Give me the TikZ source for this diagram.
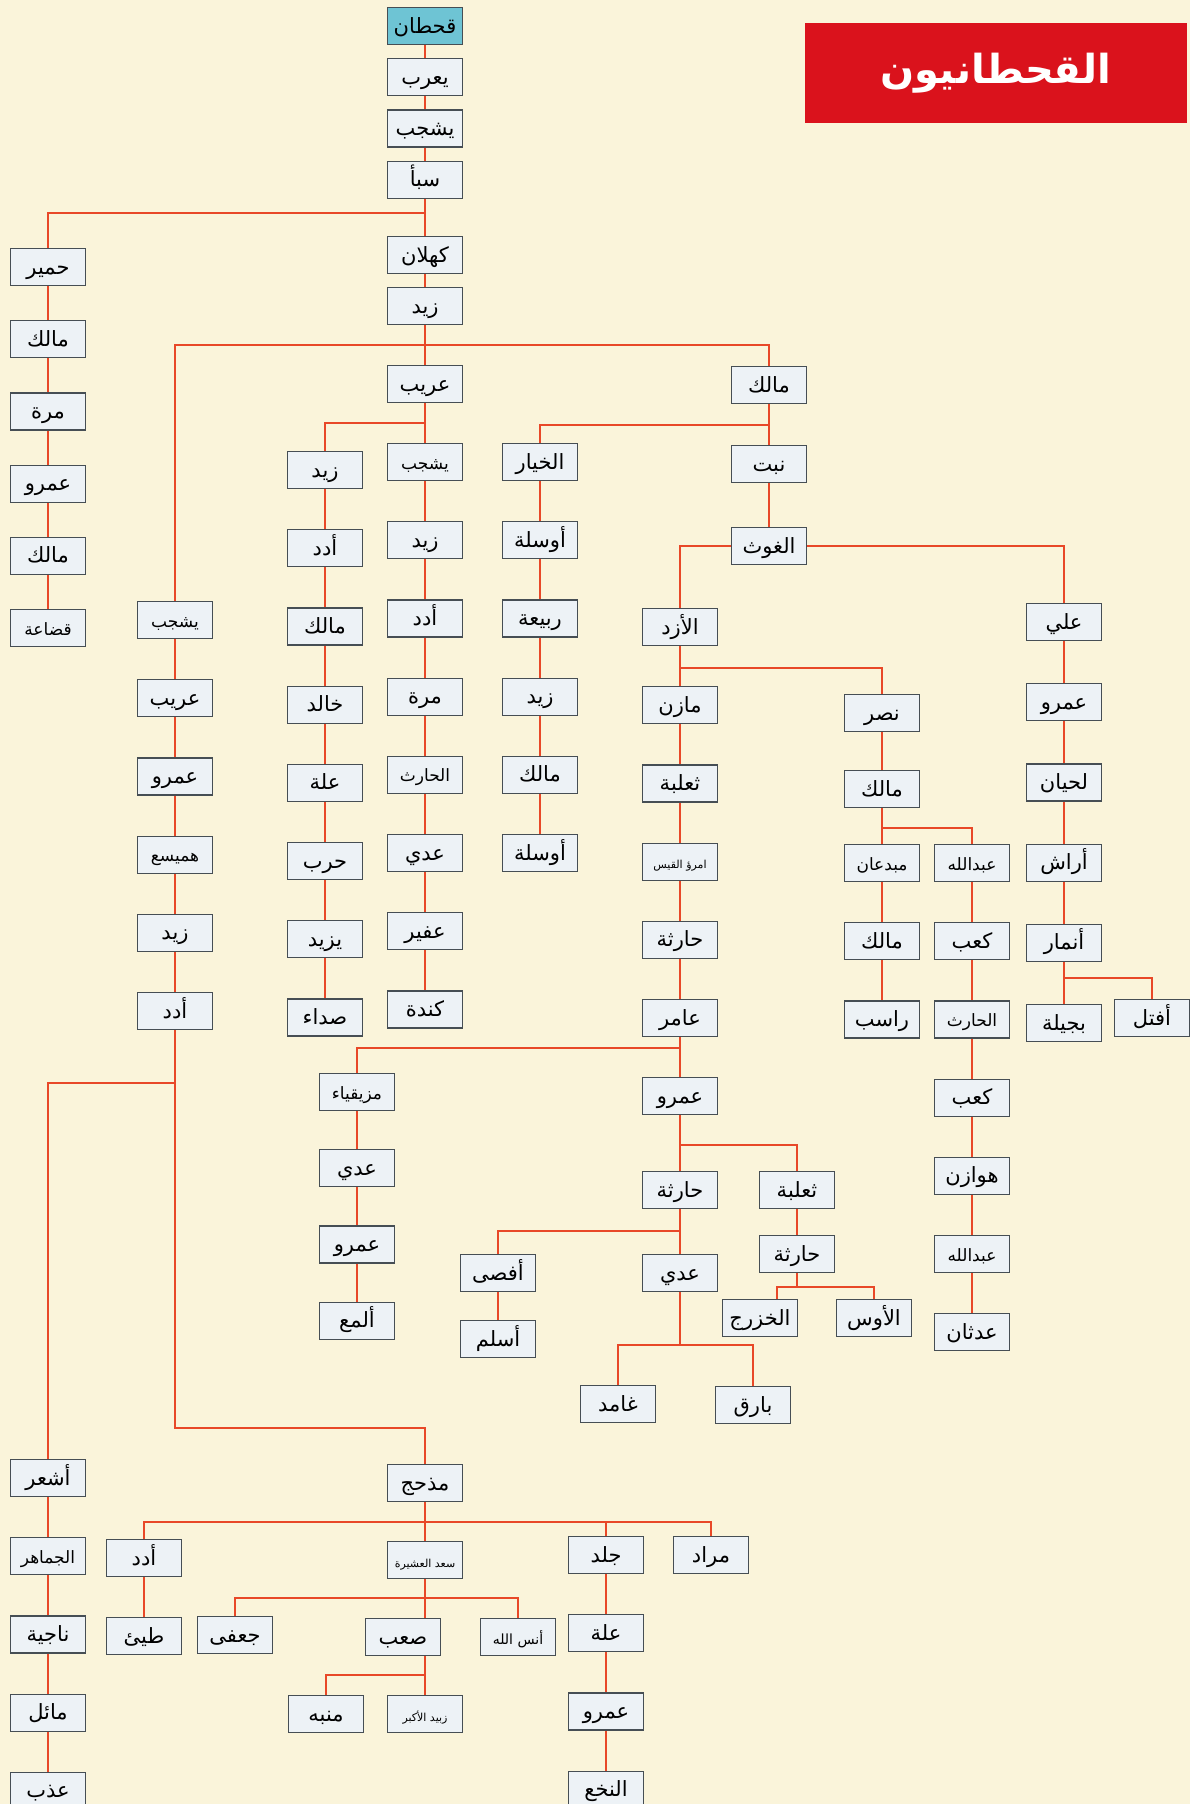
\documentclass[tikz,border=0pt]{standalone}
\usepackage{fontspec}
\usepackage{tikz}
\usetikzlibrary{positioning}
\TeXXeTstate=1
\newfontfamily\arabicfont[Script=Arabic]{DejaVu Sans}
\definecolor{bgcream}{RGB}{250,244,218}
\definecolor{boxfill}{RGB}{237,242,246}
\definecolor{boxline}{RGB}{70,78,84}
\definecolor{linkred}{RGB}{232,72,40}
\definecolor{rootcyan}{RGB}{110,196,212}
\definecolor{titlered}{RGB}{218,18,28}
\tikzset{
  pbox/.style={rectangle,draw=boxline,fill=boxfill,line width=0.6pt,
               minimum width=37.5pt,minimum height=18.5pt,inner sep=1pt,
               text height=8.5pt,text depth=1.5pt,
               font=\arabicfont\fontsize{10.5}{12}\selectfont,
               execute at begin node=\beginR,execute at end node=\endR},
  mbox/.style={pbox,font=\arabicfont\fontsize{8.5}{10}\selectfont},
  sbox/.style={pbox,font=\arabicfont\fontsize{5.5}{7}\selectfont},
  rbox/.style={pbox,fill=rootcyan},
  ln/.style={draw=linkred,line width=1pt},
}
\begin{document}
\begin{tikzpicture}[x=0.5pt,y=-0.5pt,node distance=20pt]
  \fill[bgcream] (0,0) rectangle (1190,1804);
  \useasboundingbox (0,0) rectangle (1190,1804);
  % title
  \node[fill=titlered,minimum width=191pt,minimum height=50pt,text=white,
        font=\arabicfont\bfseries\fontsize{20}{24}\selectfont] (title) at (996,73) {\beginR القحطانيون\endR};
  % trunk
  \node[rbox] (qah) at (425,26) {قحطان};
  \node[pbox,below=6.5pt of qah] (yar) {يعرب};
  \node[pbox,below=6.5pt of yar] (ysh) {يشجب};
  \node[pbox,below=6.5pt of ysh] (saba) {سبأ};
  \node[pbox] (kah) at (425,255) {كهلان};
  \node[pbox,below=6.5pt of kah] (zay) {زيد};
  \node[pbox] (urb) at (425,384) {عريب};
  \node[pbox] (mlk) at (769,385) {مالك};
  % himyar
  \node[pbox] (him) at (48,267) {حمير};
  \node[pbox,below=17pt of him] (hb) {مالك};
  \node[pbox,below=17pt of hb] (hc) {مرة};
  \node[pbox,below=17pt of hc] (hd) {عمرو};
  \node[pbox,below=17pt of hd] (he) {مالك};
  \node[mbox,below=17pt of he] (hf) {قضاعة};
  % yashjub, left
  \node[mbox] (ysb) at (175,620) {يشجب};
  \node[pbox,below=of ysb] (ysc) {عريب};
  \node[pbox,below=of ysc] (ysd) {عمرو};
  \node[mbox,below=of ysd] (yse) {هميسع};
  \node[pbox,below=of yse] (ysf) {زيد};
  \node[pbox,below=of ysf] (ysg) {أدد};
  % zayd
  \node[pbox] (zyb) at (325,470) {زيد};
  \node[pbox,below=of zyb] (zyc) {أدد};
  \node[pbox,below=of zyc] (zyd) {مالك};
  \node[pbox,below=of zyd] (zye) {خالد};
  \node[pbox,below=of zye] (zyf) {علة};
  \node[pbox,below=of zyf] (zyg) {حرب};
  \node[pbox,below=of zyg] (zyh) {يزيد};
  \node[pbox,below=of zyh] (zyi) {صداء};
  % kinda
  \node[mbox] (knb) at (425,462) {يشجب};
  \node[pbox,below=of knb] (knc) {زيد};
  \node[pbox,below=of knc] (knd) {أدد};
  \node[pbox,below=of knd] (kne) {مرة};
  \node[mbox,below=of kne] (knf) {الحارث};
  \node[pbox,below=of knf] (kng) {عدي};
  \node[pbox,below=of kng] (knh) {عفير};
  \node[pbox,below=of knh] (kni) {كندة};
  % khiyar
  \node[pbox] (khb) at (540,462) {الخيار};
  \node[pbox,below=of khb] (khc) {أوسلة};
  \node[pbox,below=of khc] (khd) {ربيعة};
  \node[pbox,below=of khd] (khe) {زيد};
  \node[pbox,below=of khe] (khf) {مالك};
  \node[pbox,below=of khf] (khg) {أوسلة};
  % nabt
  \node[pbox] (nabt) at (769,464) {نبت};
  \node[pbox] (ghw) at (769,546) {الغوث};
  % azd
  \node[pbox] (azd) at (680,627) {الأزد};
  \node[pbox,below=of azd] (azc) {مازن};
  \node[pbox,below=of azc] (azd2) {ثعلبة};
  \node[sbox,below=of azd2] (aze) {امرؤ القيس};
  \node[pbox,below=of aze] (azf) {حارثة};
  \node[pbox,below=of azf] (azg) {عامر};
  \node[pbox,below=of azg] (azh) {عمرو};
  \node[pbox] (har) at (680,1190) {حارثة};
  \node[pbox] (adi) at (680,1273) {عدي};
  \node[pbox] (afs) at (498,1273) {أفصى};
  \node[pbox,below=14pt of afs] (asl) {أسلم};
  \node[pbox] (gham) at (618,1404) {غامد};
  \node[pbox] (bar) at (753,1405) {بارق};
  \node[pbox] (tha) at (797,1190) {ثعلبة};
  \node[pbox,below=13pt of tha] (har2) {حارثة};
  \node[pbox] (khz) at (760,1318) {الخزرج};
  \node[pbox] (aws) at (874,1318) {الأوس};
  % muzayqiya
  \node[mbox] (muz) at (357,1092) {مزيقياء};
  \node[pbox,below=19pt of muz] (muc) {عدي};
  \node[pbox,below=19pt of muc] (mud) {عمرو};
  \node[pbox,below=19pt of mud] (mue) {ألمع};
  % nasr
  \node[pbox] (nasr) at (882,713) {نصر};
  \node[pbox,below=19pt of nasr] (nsc) {مالك};
  \node[mbox] (mub) at (882,863) {مبدعان};
  \node[pbox,below=of mub] (mbc) {مالك};
  \node[pbox,below=of mbc] (mbd) {راسب};
  \node[mbox] (abd) at (972,863) {عبدالله};
  \node[pbox,below=of abd] (abc) {كعب};
  \node[mbox,below=of abc] (abdd) {الحارث};
  \node[pbox,below=of abdd] (abe) {كعب};
  \node[pbox,below=of abe] (abf) {هوازن};
  \node[mbox,below=of abf] (abg) {عبدالله};
  \node[pbox,below=of abg] (abh) {عدثان};
  % ali
  \node[pbox] (ali) at (1064,622) {علي};
  \node[pbox,below=21pt of ali] (alc) {عمرو};
  \node[pbox,below=21pt of alc] (ald) {لحيان};
  \node[pbox,below=21pt of ald] (ale) {أراش};
  \node[pbox,below=21pt of ale] (alf) {أنمار};
  \node[pbox,below=21pt of alf] (alg) {بجيلة};
  \node[pbox] (aft) at (1152,1018) {أفتل};
  % ashar
  \node[pbox] (ash) at (48,1478) {أشعر};
  \node[mbox,below=of ash] (asc) {الجماهر};
  \node[pbox,below=of asc] (asd) {ناجية};
  \node[pbox,below=of asd] (ase) {مائل};
  \node[pbox,below=of ase] (asf) {عذب};
  % madhhij
  \node[pbox] (madh) at (425,1483) {مذحج};
  \node[pbox] (udd) at (144,1558) {أدد};
  \node[pbox,below=of udd] (tay) {طيئ};
  \node[sbox] (sad) at (425,1560) {سعد العشيرة};
  \node[pbox] (jald) at (606,1555) {جلد};
  \node[pbox,below=of jald] (ila) {علة};
  \node[pbox,below=of ila] (amr) {عمرو};
  \node[pbox,below=of amr] (nakh) {النخع};
  \node[pbox] (mur) at (711,1555) {مراد};
  \node[pbox] (juf) at (235,1635) {جعفى};
  \node[pbox] (sab) at (403,1637) {صعب};
  \node[pbox,font=\arabicfont\fontsize{7}{8}\selectfont] (anas) at (518,1637) {أنس الله};
  \node[pbox] (mun) at (326,1714) {منبه};
  \node[sbox] (zub) at (425,1714) {زبيد الأكبر};
  % connectors
  \draw[ln] (qah) -- (yar) -- (ysh) -- (saba) -- (kah) -- (zay) -- (urb) -- (knb);
  \coordinate (jA) at (425,213);
  \coordinate (jB) at (425,345);
  \coordinate (jC) at (425,423);
  \coordinate (jD) at (769,425);
  \draw[ln] (jA) -| (him);
  \draw[ln] (jB) -| (ysb);
  \draw[ln] (jB) -| (mlk);
  \draw[ln] (jC) -| (zyb);
  \draw[ln] (mlk) -- (nabt) -- (ghw);
  \draw[ln] (jD) -| (khb);
  \draw[ln] (ghw) -| (azd);
  \draw[ln] (ghw) -| (ali);
  \draw[ln] (him) -- (hb) -- (hc) -- (hd) -- (he) -- (hf);
  \draw[ln] (ysb) -- (ysc) -- (ysd) -- (yse) -- (ysf) -- (ysg);
  \draw[ln] (zyb) -- (zyc) -- (zyd) -- (zye) -- (zyf) -- (zyg) -- (zyh) -- (zyi);
  \draw[ln] (knb) -- (knc) -- (knd) -- (kne) -- (knf) -- (kng) -- (knh) -- (kni);
  \draw[ln] (khb) -- (khc) -- (khd) -- (khe) -- (khf) -- (khg);
  \draw[ln] (azd) -- (azc) -- (azd2) -- (aze) -- (azf) -- (azg) -- (azh) -- (har) -- (adi);
  \coordinate (jE) at (680,668);
  \coordinate (jF) at (680,1048);
  \coordinate (jG) at (680,1145);
  \coordinate (jH) at (680,1231);
  \coordinate (jI) at (680,1345);
  \draw[ln] (jE) -| (nasr);
  \draw[ln] (jF) -| (muz);
  \draw[ln] (jG) -| (tha);
  \draw[ln] (jH) -| (afs);
  \draw[ln] (adi) -- (jI);
  \draw[ln] (jI) -| (gham);
  \draw[ln] (jI) -| (bar);
  \draw[ln] (afs) -- (asl);
  \draw[ln] (muz) -- (muc) -- (mud) -- (mue);
  \coordinate (jJ) at (797,1287);
  \draw[ln] (tha) -- (har2) -- (jJ);
  \draw[ln] (jJ) -| (aws);
  \draw[ln] (jJ) -| ([xshift=8.5pt]khz.north);
  \coordinate (jQ) at (882,828);
  \draw[ln] (nasr) -- (nsc) -- (mub) -- (mbc) -- (mbd);
  \draw[ln] (jQ) -| (abd);
  \draw[ln] (abd) -- (abc) -- (abdd) -- (abe) -- (abf) -- (abg) -- (abh);
  \coordinate (jP) at (1064,978);
  \draw[ln] (ali) -- (alc) -- (ald) -- (ale) -- (alf) -- (alg);
  \draw[ln] (jP) -| (aft);
  \coordinate (jK) at (175,1083);
  \coordinate (jL) at (175,1428);
  \draw[ln] (ysg) -- (jL) -| (madh);
  \draw[ln] (jK) -| (ash);
  \draw[ln] (ash) -- (asc) -- (asd) -- (ase) -- (asf);
  \coordinate (jM) at (425,1522);
  \coordinate (jN) at (425,1598);
  \coordinate (jO) at (425,1675);
  \draw[ln] (madh) -- (sad);
  \draw[ln] (jM) -| (udd);
  \draw[ln] (jM) -| (jald);
  \draw[ln] (jM) -| (mur);
  \draw[ln] (udd) -- (tay);
  \draw[ln] (jald) -- (ila) -- (amr) -- (nakh);
  \draw[ln] (sad) -- (jN);
  \draw[ln] (jN) -| (juf);
  \draw[ln] (jN) -| (anas);
  \draw[ln] (jN) -- (jN |- sab.north);
  \draw[ln] (jN |- sab.south) -- (zub);
  \draw[ln] (jO) -| (mun);
\end{tikzpicture}
\end{document}
